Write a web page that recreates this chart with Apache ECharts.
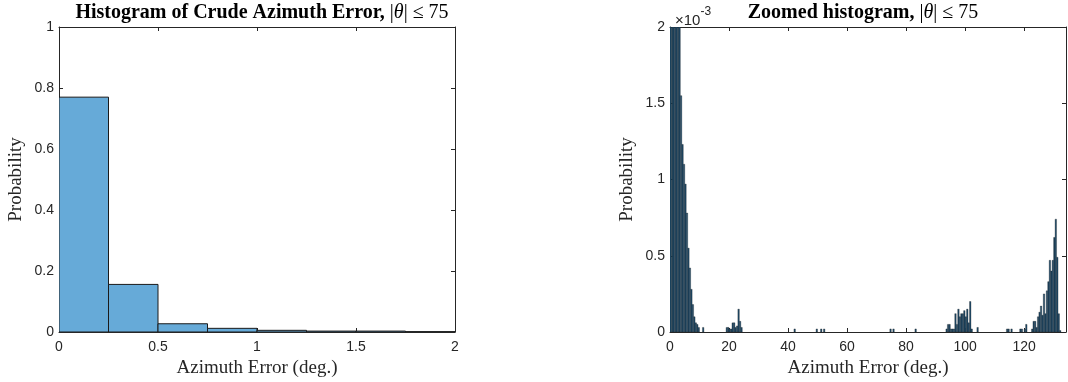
<!DOCTYPE html>
<html>
<head>
<meta charset="utf-8">
<script src="https://cdn.jsdelivr.net/npm/echarts/dist/echarts.min.js"></script>
<style>html,body{margin:0;padding:0;background:#fff}#c{width:1068px;height:382px}</style>
</head>
<body>
<div id="c"></div>
<script>
// ---------------- data ----------------
// Left panel: histogram of crude azimuth error, bin width 0.25 deg
const leftBinWidth = 0.25;
const leftBinStart = 0;
const leftProbabilities = [0.770, 0.156, 0.027, 0.012, 0.0055, 0.003, 0.003, 0.0012];
const leftXTicks = [0, 0.5, 1, 1.5, 2];
const leftYTicks = [0, 0.2, 0.4, 0.6, 0.8, 1];

// Right panel: zoomed histogram, bin width 0.5 deg, values in units of 1e-3
const zoomBinWidth = 0.5;
const nearZeroStart = 0;
const nearZeroVals = [926, 39, 8.5, 4.2, 2.9, 2.4, 2.1, 1.55, 1.23, 1.10, 0.97, 0.78, 0.55, 0.42, 0.28, 0.18, 0.10, 0.06, 0.05, 0.03, 0, 0, 0.03];
const near20Start = 19;
const near20Vals = [0.03, 0.03, 0.02, 0.02, 0.06, 0.06, 0.03, 0.04, 0.15, 0.07, 0.03];
const isolatedBinStarts = [42, 49.5, 51, 52, 74.5, 75.5, 83, 104];
const isolatedVals = [0.02, 0.02, 0.02, 0.02, 0.02, 0.02, 0.02, 0.03];
const near95Start = 93.5;
const near95Vals = [0.02, 0.05, 0.05, 0.02, 0.02, 0.02, 0.12, 0.05, 0.15, 0.10, 0.12, 0.12, 0.14, 0.10, 0.15, 0.06, 0.20, 0.02];
const near115Start = 114;
const near115Vals = [0.02, 0.02, 0, 0.02];
const near125Start = 118.5;
const near125Vals = [0.02, 0.02, 0, 0.02, 0.05, 0, 0, 0, 0.02, 0.07, 0.07, 0.03, 0.10, 0.13, 0.17, 0.11, 0.25, 0.12, 0.27, 0.33, 0.47, 0.40, 0.47, 0.62, 0.74, 0.49, 0.12, 0.01];
const zoomXTicks = [0, 20, 40, 60, 80, 100, 120];
const zoomXMax = 134.2;
const zoomYTicks = [0, 0.5, 1, 1.5, 2];

// ---------------- build ----------------
function bins(start, width, vals) {
  const out = [];
  vals.forEach((v, i) => { if (v > 0) out.push([start + i * width, start + (i + 1) * width, v]); });
  return out;
}
const leftData = bins(leftBinStart, leftBinWidth, leftProbabilities);
let zoomData = [];
zoomData = zoomData.concat(bins(nearZeroStart, zoomBinWidth, nearZeroVals));
zoomData = zoomData.concat(bins(near20Start, zoomBinWidth, near20Vals));
isolatedBinStarts.forEach((s, i) => { zoomData = zoomData.concat(bins(s, zoomBinWidth, [isolatedVals[i]])); });
zoomData = zoomData.concat(bins(near95Start, zoomBinWidth, near95Vals));
zoomData = zoomData.concat(bins(near115Start, zoomBinWidth, near115Vals));
zoomData = zoomData.concat(bins(near125Start, zoomBinWidth, near125Vals));

function makeRender(style) {
  return function (params, api) {
    const a = api.coord([api.value(0), api.value(2)]);
    const b = api.coord([api.value(1), 0]);
    return {
      type: 'rect',
      shape: { x: a[0], y: a[1], width: b[0] - a[0], height: b[1] - a[1] },
      style: style
    };
  };
}

const AX = '#262626';
const SANS = 'Liberation Sans, Arial, sans-serif';
const SERIF = 'Liberation Serif, serif';
const tickFont = { color: AX, fontSize: 14, fontFamily: SANS };
const nameFont = { color: AX, fontSize: 19, fontFamily: SERIF };

function axisBase(gridIndex, ticks, min, max, position, showLabels) {
  return {
    type: 'value', gridIndex, position,
    min, max, interval: ticks[1] - ticks[0],
    axisLine: { show: true, onZero: false, lineStyle: { color: AX, width: 1 } },
    axisTick: { show: true, inside: true, length: 4, lineStyle: { color: AX, width: 1 } },
    axisLabel: Object.assign({ show: showLabels, showMaxLabel: true,
      formatter: v => (ticks.some(t => Math.abs(t - v) < 1e-9) ? String(+v.toFixed(3)) : '') }, tickFont),
    splitLine: { show: false }
  };
}

const xLeftB = axisBase(0, leftXTicks, leftXTicks[0], leftXTicks[leftXTicks.length - 1], 'bottom', true);
Object.assign(xLeftB, { name: 'Azimuth Error (deg.)', nameLocation: 'middle', nameGap: 25, nameTextStyle: nameFont });
xLeftB.axisLabel.margin = 8;
const xLeftT = axisBase(0, leftXTicks, leftXTicks[0], leftXTicks[leftXTicks.length - 1], 'top', false);
const xZoomB = axisBase(1, zoomXTicks, 0, zoomXMax, 'bottom', true);
Object.assign(xZoomB, { name: 'Azimuth Error (deg.)', nameLocation: 'middle', nameGap: 25, nameTextStyle: nameFont });
xZoomB.axisLabel.margin = 8;
xZoomB.axisLabel.showMaxLabel = false;
const xZoomT = axisBase(1, zoomXTicks, 0, zoomXMax, 'top', false);

const yLeftL = axisBase(0, leftYTicks, 0, 1, 'left', true);
Object.assign(yLeftL, { name: 'Probability', nameLocation: 'middle', nameGap: 33, nameTextStyle: nameFont });
yLeftL.axisLabel.margin = 5;
const yLeftR = axisBase(0, leftYTicks, 0, 1, 'right', false);
const yZoomL = axisBase(1, zoomYTicks, 0, 2, 'left', true);
Object.assign(yZoomL, { name: 'Probability', nameLocation: 'middle', nameGap: 33, nameTextStyle: nameFont });
yZoomL.axisLabel.margin = 5;
const yZoomR = axisBase(1, zoomYTicks, 0, 2, 'right', false);

const titleRich = {
  b: { fontFamily: SERIF, fontWeight: 'bold', fontSize: 20, color: '#000' },
  r: { fontFamily: SERIF, fontWeight: 'normal', fontSize: 20, color: '#000' },
  i: { fontFamily: SERIF, fontWeight: 'normal', fontStyle: 'italic', fontSize: 20, color: '#000' }
};

const chart = echarts.init(document.getElementById('c'), null, { renderer: 'canvas' });
chart.setOption({
  animation: false,
  backgroundColor: '#fff',
  title: [
    { text: '{b|Histogram of Crude Azimuth Error, }{r||}{i|θ}{r|| ≤ 75}', left: 257, top: -2, textAlign: 'center', textStyle: { rich: titleRich } },
    { text: '{b|Zoomed histogram, }{r||}{i|θ}{r|| ≤ 75}', left: 858, top: -2, textAlign: 'center', textStyle: { rich: titleRich } },
    { text: '{a|×10}{b|-3}', left: 670, top: 1, textStyle: { rich: {
        a: { fontSize: 15, fontWeight: 'normal', fontFamily: SANS, color: AX, verticalAlign: 'bottom', lineHeight: 22 },
        b: { fontSize: 12, fontWeight: 'normal', fontFamily: SANS, color: AX, verticalAlign: 'top', lineHeight: 22 }
      } } }
  ],
  grid: [
    { left: 59, right: 613, top: 27, bottom: 50, outerBoundsMode: 'none', containLabel: false },
    { left: 670, right: 2, top: 27, bottom: 50, outerBoundsMode: 'none', containLabel: false }
  ],
  xAxis: [xLeftB, xLeftT, xZoomB, xZoomT].map((a, i) => Object.assign(a, { gridIndex: i < 2 ? 0 : 1 })),
  yAxis: [yLeftL, yLeftR, yZoomL, yZoomR].map((a, i) => Object.assign(a, { gridIndex: i < 2 ? 0 : 1 })),
  series: [
    { type: 'custom', xAxisIndex: 0, yAxisIndex: 0, clip: true, data: leftData,
      renderItem: makeRender({ fill: '#66aad8', stroke: '#1a1a1a', lineWidth: 1 }) },
    { type: 'custom', xAxisIndex: 2, yAxisIndex: 2, clip: true, data: zoomData,
      renderItem: makeRender({ fill: '#1d4a69', stroke: 'rgba(30,30,30,0.6)', lineWidth: 0.5 }) }
  ]
});
</script>
</body>
</html>
